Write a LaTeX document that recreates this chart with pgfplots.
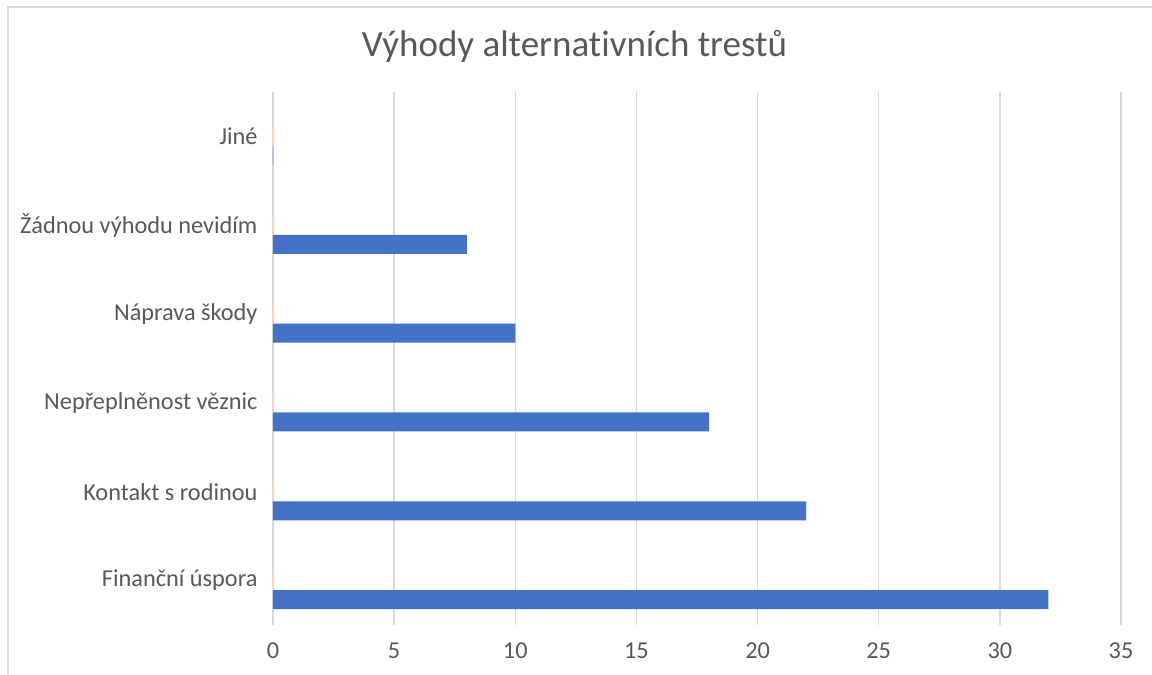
\documentclass[border=0pt]{standalone}
\usepackage{fontspec}
\setmainfont{Carlito}[Ligatures={NoCommon}]
\usepackage{pgfplots}
\pgfplotsset{compat=1.18}
\definecolor{barblue}{HTML}{4472C4}
\definecolor{gridgray}{HTML}{D9D9D9}
\definecolor{txtgray}{HTML}{595959}
\definecolor{zeroorange}{HTML}{F4D3C0}
\definecolor{zeroblue}{HTML}{B4C7E7}
\begin{document}
\begin{tikzpicture}[x=1pt,y=1pt]
\useasboundingbox (0,0) rectangle (1152,675);
\draw[gridgray, line width=1.5pt] (8,0) -- (8,668) -- (1152,668);
\node[anchor=base, text=txtgray, font=\fontsize{37}{42}\selectfont] at (574.5,618) {Výhody alternativních trestů};
\begin{axis}[
  at={(273pt,50pt)}, anchor=south west,
  scale only axis, width=848pt, height=533pt,
  xmin=0, xmax=35, ymin=-0.5, ymax=5.5,
  xtick={0,5,...,35},
  ytick={0,1,2,3,4,5},
  yticklabels={Finanční úspora, Kontakt s rodinou, Nepřeplněnost věznic, Náprava škody, Žádnou výhodu nevidím, Jiné},
  xmajorgrids, grid style={gridgray, line width=1.3pt},
  axis line style={draw=none},
  major tick length=0pt,
  tick label style={text=txtgray, font=\fontsize{24.3}{28}\selectfont},
  /pgf/number format/assume math mode=true,
  xticklabel style={yshift=-14pt},
  yticklabel style={xshift=-12pt},
  xbar, bar width=19pt,
  clip=false,
]
\addplot[xbar, bar shift=-19pt, fill=barblue, draw=none] coordinates {(32,0) (22,1) (18,2) (10,3) (8,4)};
\addplot[xbar, bar shift=-19pt, fill=none, draw=zeroblue, line width=1.2pt] coordinates {(0,5)};
\addplot[xbar, bar shift=0pt, fill=none, draw=zeroorange, line width=1.2pt] coordinates {(0,0) (0,1) (0,2) (0,3) (0,4) (0,5)};
\end{axis}
\end{tikzpicture}
\end{document}
